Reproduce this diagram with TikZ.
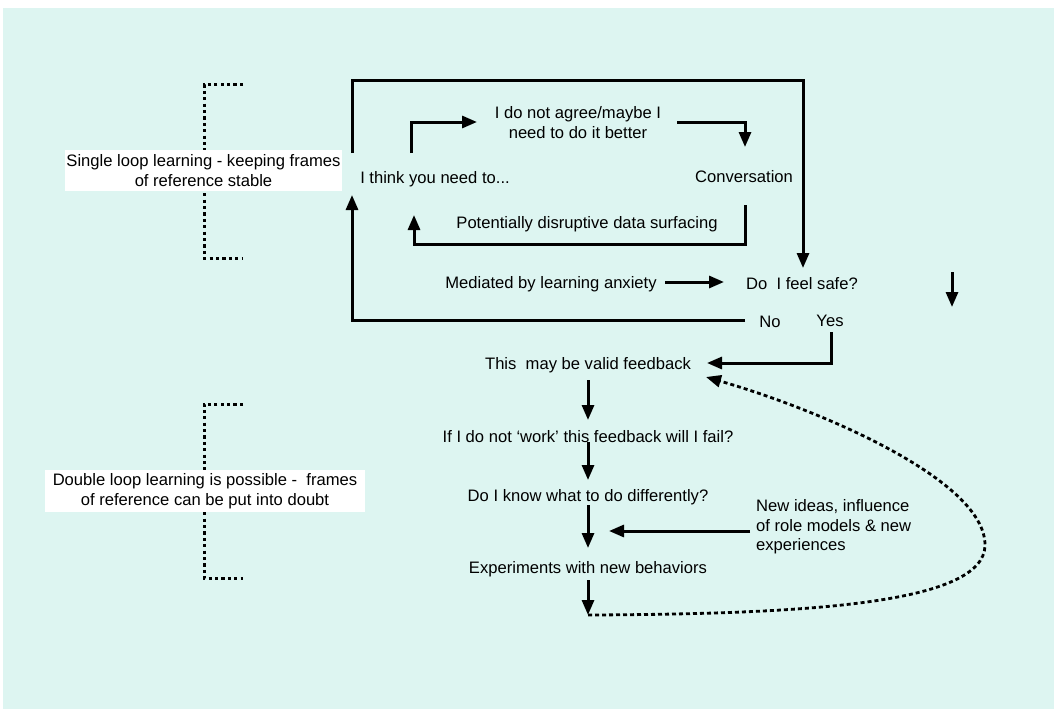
\documentclass[tikz,border=0pt]{standalone}
\usepackage{fontspec}
\setmainfont{Liberation Sans}
\usetikzlibrary{arrows.meta}
\definecolor{bgcol}{RGB}{221,245,241}
\begin{document}
\begin{tikzpicture}[x=1pt,y=-1pt,
  txt/.style={inner sep=1pt,yshift=-1.8pt,font=\fontsize{16.6}{19.5}\selectfont},
  lbl/.style={txt,align=center},
  boxlbl/.style={txt,fill=white,align=center,inner sep=0pt},
  arr/.style={line width=3pt,-{Triangle[length=15pt,width=12pt]}},
  brk/.style={line width=3pt,dash pattern=on 3.2pt off 3.2pt},
  dotarr/.style={line width=2.8pt,dash pattern=on 4pt off 3pt,-{Triangle[length=15pt,width=12pt]}}]
\useasboundingbox (0,0) rectangle (1055,709);
\fill[bgcol] (3,8) rectangle (1054,709);

% brackets
\draw[brk] (243,85) -- (204,85) -- (204,258) -- (243,258);
\draw[brk] (243,404) -- (204,404) -- (204,578) -- (243,578);

% side labels
\node[boxlbl,minimum width=277pt,minimum height=41pt] (single) at (203.5,168.7)
  {Single loop learning - keeping frames\\of reference stable};
\node[boxlbl,minimum width=320pt,minimum height=42pt] (double) at (205,489.2)
  {Double loop learning is possible -\ \ frames\\of reference can be put into doubt};

% text nodes
\node[txt] (think) at (435,177) {I think you need to...};
\node[lbl] (agree) at (578,121) {I do not agree/maybe I\\need to do it better};
\node[txt] (conv) at (744,175) {Conversation};
\node[txt] (disrupt) at (587,222) {Potentially disruptive data surfacing};
\node[txt] (mediated) at (551,282) {Mediated by learning anxiety};
\node[txt] (safe) at (802,282) {Do\ \ I feel safe?};
\node[txt] (no) at (770,320) {No};
\node[txt] (yes) at (830,319) {Yes};
\node[txt] (valid) at (588,363) {This\ \ may be valid feedback};
\node[txt] (fail) at (588,435) {If I do not ‘work’ this feedback will I fail?};
\node[txt] (know) at (588,495) {Do I know what to do differently?};
\node[txt,align=left,anchor=west] (newideas) at (755,525) {New ideas, influence\\of role models \& new\\experiences};
\node[txt] (exper) at (588,567) {Experiments with new behaviors};

% anchor coordinates
\coordinate (thinkTop) at (352,153);
\coordinate (thinkIn) at (352,195);
\coordinate (safeIn) at (803,268);
\coordinate (outerTop) at (803,81);
\coordinate (noEnd) at (745,320);
\coordinate (thinkR) at (411,153);
\coordinate (agreeIn) at (477,122);
\coordinate (agreeOut) at (677,122);
\coordinate (convIn) at (745,147);
\coordinate (convOut) at (745,205);
\coordinate (loopBot) at (745,244);
\coordinate (thinkIn2) at (414,215);
\coordinate (medOut) at (665,282);
\coordinate (safeW) at (724,282);
\coordinate (sArrA) at (952,272);
\coordinate (sArrB) at (952,307);
\coordinate (yesOut) at (831,332);
\coordinate (validIn) at (707,363);
\coordinate (v1) at (588,380);
\coordinate (v2) at (588,420);
\coordinate (f1) at (588,442);
\coordinate (f2) at (588,480);
\coordinate (k1) at (588,505);
\coordinate (k2) at (588,548);
\coordinate (nOut) at (750,531);
\coordinate (nIn) at (609,531);
\coordinate (e1) at (588,580);
\coordinate (e2) at (588,615);
\coordinate (validIn2) at (706,377);
\coordinate (cTurn) at (985,545);

% connectors
\draw[arr] (thinkTop) |- (outerTop) -- (safeIn);
\draw[arr] (noEnd) -| (thinkIn);
\draw[arr] (thinkR) |- (agreeIn);
\draw[arr] (agreeOut) -| (convIn);
\draw[arr] (convOut) |- (loopBot -| thinkIn2) -- (thinkIn2);
\draw[arr] (medOut) -- (safeW);
\draw[arr] (sArrA) -- (sArrB);
\draw[arr] (yesOut) |- (validIn);
\draw[arr] (v1) -- (v2);
\draw[arr] (f1) -- (f2);
\draw[arr] (k1) -- (k2);
\draw[arr] (nOut) -- (nIn);
\draw[arr] (e1) -- (e2);
\draw[dotarr] (e2) .. controls (800,614) and (985,605) .. (cTurn)
  .. controls (985,480) and (820,410) .. (validIn2);
\end{tikzpicture}
\end{document}
